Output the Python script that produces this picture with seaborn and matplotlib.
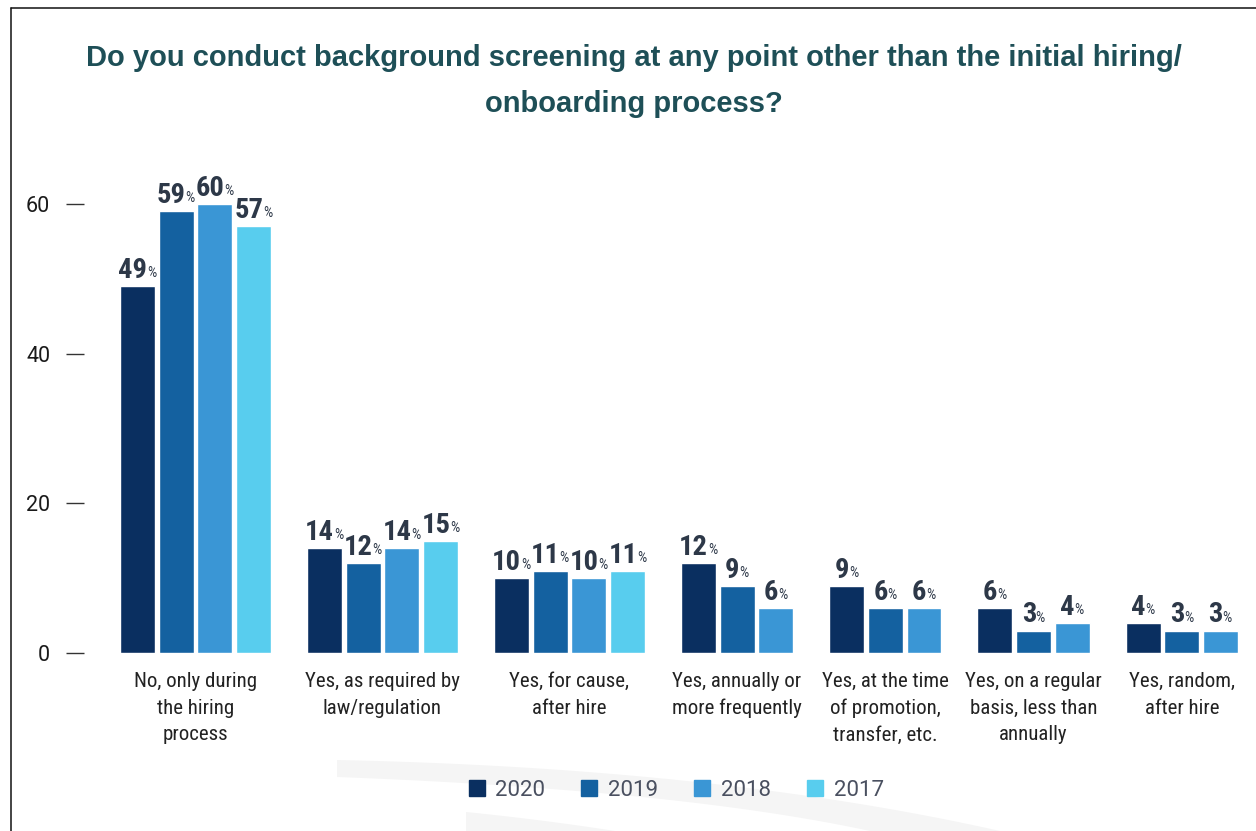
import numpy as np
import pandas as pd
import matplotlib
matplotlib.use("Agg")
import matplotlib.pyplot as plt
from matplotlib.lines import Line2D
from matplotlib.patches import Polygon
import seaborn as sns

# ---------------- data ----------------
categories = [
    "No, only during\nthe hiring\nprocess",
    "Yes, as required by\nlaw/regulation",
    "Yes, for cause,\nafter hire",
    "Yes, annually or\nmore frequently",
    "Yes, at the time\nof promotion,\ntransfer, etc.",
    "Yes, on a regular\nbasis, less than\nannually",
    "Yes, random,\nafter hire",
]
years = ["2020", "2019", "2018", "2017"]
v2020 = [49, 14, 10, 12, 9, 6, 4]
v2019 = [59, 12, 11, 9, 6, 3, 3]
v2018 = [60, 14, 10, 6, 6, 4, 3]
v2017 = [57, 15, 11, None, None, None, None]
yticks = [0, 20, 40, 60]
title = ("Do you conduct background screening at any point other than the initial hiring/\n"
         "onboarding process?")

colors = ["#0a2f60", "#1461a0", "#3a96d5", "#58cdee"]
palette = dict(zip(years, colors))

rows = []
for yr, vals in zip(years, [v2020, v2019, v2018, v2017]):
    for cat, v in zip(categories, vals):
        if v is not None:
            rows.append({"category": cat, "year": yr, "value": v})
df = pd.DataFrame(rows)

# ---------------- style ----------------
sns.set_theme(style="white")
plt.rcParams["font.family"] = ["Roboto", "DejaVu Sans"]

W, H = 1256, 831
fig = plt.figure(figsize=(W / 100, H / 100), dpi=100)


def fy(py):
    return 1 - py / H


# faint decorative swooshes in the background
def bez(p0, p1, p2, n=40):
    t = np.linspace(0, 1, n)[:, None]
    p0, p1, p2 = map(np.asarray, (p0, p1, p2))
    return (1 - t) ** 2 * p0 + 2 * (1 - t) * t * p1 + t ** 2 * p2


top1 = bez((337, 760), (720, 768), (1000, 831))
bot1 = bez((337, 777), (680, 790), (870, 831))
band1 = np.vstack([top1, bot1[::-1]])
band2 = np.vstack([bez((466, 812), (545, 820), (615, 831)), [(466, 831)]])
for band in (band1, band2):
    pts = np.column_stack([band[:, 0] / W, 1 - band[:, 1] / H])
    fig.add_artist(Polygon(pts, closed=True, transform=fig.transFigure,
                           facecolor="#f5f5f5", edgecolor="none", zorder=0))

counts = [int((df["category"] == c).sum()) for c in categories]
slot = 38.7
gap = 32.15
left_px = 118.15
right_px = left_px + slot * sum(counts) + gap * (len(counts) - 1)
mean_w = slot * sum(counts) / len(counts)
gs = fig.add_gridspec(1, len(categories), width_ratios=counts,
                      left=left_px / W, right=right_px / W,
                      bottom=178 / H, top=(H - 174) / H,
                      wspace=gap / mean_w)

cond = ["Roboto Condensed", "DejaVu Sans"]
val_color = "#2d3848"

axes = []
for i, cat in enumerate(categories):
    ax = fig.add_subplot(gs[0, i], sharey=axes[0] if axes else None)
    ax.patch.set_alpha(0)
    axes.append(ax)
    sub = df[df["category"] == cat]
    present = [y for y in years if y in set(sub["year"])]
    sns.barplot(data=sub, x="year", y="value", hue="year", order=present,
                hue_order=years, palette=palette, width=0.904, dodge=False,
                saturation=1, legend=False, ax=ax)
    ax.set_xlim(-0.5, len(present) - 0.5)
    ax.set_ylim(0, 64)
    for s in ax.spines.values():
        s.set_visible(False)
    ax.set_xticks([])
    ax.set_xlabel(cat, fontsize=15, family=cond, fontweight="normal",
                  color="#222222", labelpad=13.5, linespacing=1.52)
    ax.set_ylabel("")
    if i == 0:
        ax.spines["left"].set_position(("outward", 34 * 0.72))
        ax.spines["left"].set_visible(True)
        ax.spines["left"].set_color("none")
        ax.set_yticks(yticks)
        ax.tick_params(axis="y", left=True, length=12.96, width=1.0,
                       color="#333333", pad=11.5, labelsize=15.5,
                       labelcolor="#1a1a1a", direction="out")
        for t in ax.get_yticklabels():
            t.set_family(["Roboto", "DejaVu Sans"])
    else:
        ax.tick_params(axis="y", left=False, labelleft=False)

    for p in ax.patches:
        h = p.get_height()
        if np.isnan(h):
            continue
        xc = p.get_x() + p.get_width() / 2
        num = ax.annotate(f"{h:g}", xy=(xc, h), xytext=(-3.4, 5.8),
                          textcoords="offset points", ha="center",
                          va="baseline", fontsize=20.5, fontweight="bold",
                          family=cond, color=val_color,
                          annotation_clip=False)
        ax.annotate("%", xy=(1, 0), xycoords=num, xytext=(-0.2, 2.8),
                    textcoords="offset points", ha="left", va="bottom",
                    fontsize=10.5, family=cond, color=val_color,
                    annotation_clip=False)

# title
fig.text(634 / W, fy(44), title, ha="center", va="top", fontsize=21,
         fontweight="bold", color="#1e4f57", linespacing=1.8,
         family=["Liberation Sans", "DejaVu Sans"])

# legend
handles = [Line2D([], [], marker="s", linestyle="", markersize=11.5,
                  markerfacecolor=c, markeredgecolor=c) for c in colors]
fig.legend(handles, years, loc="center", bbox_to_anchor=(676 / W, fy(790)),
           ncol=4, frameon=False, handlelength=0.8, handletextpad=0.45,
           columnspacing=1.58, labelcolor="#4a5060",
           prop={"family": ["Roboto", "DejaVu Sans"], "size": 16})

# frame lines
fig.add_artist(Line2D([11 / W, 1], [fy(7.5), fy(7.5)],
                      transform=fig.transFigure, color="#111111", lw=1.1))
fig.add_artist(Line2D([11 / W, 11 / W], [0, fy(7.5)],
                      transform=fig.transFigure, color="#111111", lw=1.1))

fig.savefig("out.png", dpi=100)
